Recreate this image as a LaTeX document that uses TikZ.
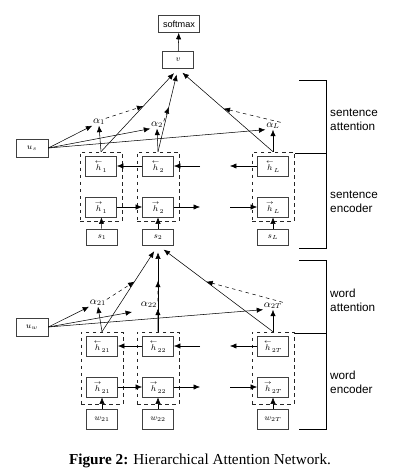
\documentclass[tikz,border=0pt]{standalone}
\usepackage{fontspec}
\setmainfont{Liberation Serif}
\newfontfamily\arialfont{Liberation Sans}
\usepackage{amsmath,amssymb}
\usetikzlibrary{arrows.meta,calc}

\newcommand{\bwd}[1]{\overset{\leftarrow}{h}_{#1}}
\newcommand{\fwd}[1]{\overset{\rightarrow}{h}_{#1}}

\begin{document}
\begin{tikzpicture}[x=0.03cm, y=-0.03cm,
        cell/.style={draw=black!75, line width=0.6pt, rectangle, minimum width=0.93cm, minimum height=0.6cm, inner sep=0pt, font=\scriptsize},
        inbox/.style={cell, minimum height=0.48cm},
        group/.style={draw=black!85, dashed, line width=0.5pt, rectangle, minimum width=1.26cm, minimum height=2.07cm},
        weight/.style={inner sep=0.5pt, font=\small},
        link/.style={-{Latex[length=5.5pt,width=4.5pt]}, line width=0.45pt},
        tag/.style={anchor=west, align=left, inner sep=0pt, font=\arialfont\fontsize{10}{12}\selectfont}]
        \useasboundingbox (0,0) rectangle (400,476);

        % Draw the output cells
        \node[cell, minimum width=1.23cm, minimum height=0.51cm, font=\arialfont\fontsize{7.8}{9}\selectfont] (softmax) at (179,24) {softmax};
        \node[cell, minimum height=0.51cm] (v) at (178,60) {$v$};
        \draw[link] (v) -- (softmax);

        % Draw the sentence encoder
        \node[cell, minimum width=0.96cm, minimum height=0.54cm] (us) at (32,148) {$u_s$};
        \node[group] (senc1) at (101,186.5) {};
        \node[group] (senc2) at (158,186.5) {};
        \node[group] (sencL) at (273,186.5) {};

        \node[cell] (sbh1) at (101,166) {$\bwd{1}$};
        \node[cell] (sbh2) at (158,166) {$\bwd{2}$};
        \node[cell] (sbhL) at (273,166) {$\bwd{L}$};
        \node[cell] (sfh1) at (101,207) {$\fwd{1}$};
        \node[cell] (sfh2) at (158,207) {$\fwd{2}$};
        \node[cell] (sfhL) at (273,207) {$\fwd{L}$};
        \node[inbox] (s1) at (102,237) {$s_1$};
        \node[inbox] (s2) at (158,237) {$s_2$};
        \node[inbox] (sL) at (273,237) {$s_L$};

        \coordinate (sbin) at (200,166);
        \coordinate (sbout) at (230,166);
        \coordinate (sfout) at (200,207);
        \coordinate (sfin) at (230,207);

        \draw[link] (s1) -- (sfh1);
        \draw[link] (s2) -- (sfh2);
        \draw[link] (sL) -- (sfhL);
        \draw[link] (sfh1) -- (sfh2);
        \draw[link] (sfh2) -- (sfout);
        \draw[link] (sfin) -- (sfhL);
        \draw[link] (sbh2) -- (sbh1);
        \draw[link] (sbin) -- (sbh2);
        \draw[link] (sbhL) -- (sbout);

        % Draw the sentence attention
        \node[weight] (a1) at (99,122) {$\alpha_1$};
        \node[weight] (a2) at (157,125) {$\alpha_2$};
        \node[weight] (aL) at (273,126) {$\alpha_L$};
        \draw[link] (senc1.north) -- (a1.south);
        \draw[link] (senc2.north) -- (a2.south);
        \draw[link] (sencL.north) -- (aL.south);
        \draw[link] (us.east) -- (a1.south west);
        \draw[link] (us.east) -- (a2.south west);
        \draw[link] (us.east) -- (aL.south west);
        \draw[link, shorten >=5pt] (senc1.north) -- (v.south);
        \draw[link, shorten >=5pt] (senc2.north) -- (v.south);
        \draw[link, shorten >=5pt] (sencL.north) -- (v.south);
        \draw[link, dashed] (a1.north east) -- ($(senc1.north)!0.55!(v.south)$);
        \draw[link, dashed] (a2.north east) -- ($(senc2.north)!0.54!(v.south)$);
        \draw[link, dashed] (aL.north east) -- ($(sencL.north)!0.52!(v.south)$);

        % Draw the word encoder
        \node[cell, minimum width=0.96cm, minimum height=0.54cm] (uw) at (32,327) {$u_w$};
        \node[group, minimum height=2.16cm] (wenc1) at (102,368) {};
        \node[group, minimum height=2.16cm] (wenc2) at (158,368) {};
        \node[group, minimum height=2.16cm] (wencT) at (273,368) {};

        \node[cell] (wbh1) at (102,346) {$\bwd{21}$};
        \node[cell] (wbh2) at (158,346) {$\bwd{22}$};
        \node[cell] (wbhT) at (273,346) {$\bwd{2T}$};
        \node[cell] (wfh1) at (102,387) {$\fwd{21}$};
        \node[cell] (wfh2) at (158,387) {$\fwd{22}$};
        \node[cell] (wfhT) at (273,387) {$\fwd{2T}$};
        \node[cell] (w1) at (102,419) {$w_{21}$};
        \node[cell] (w2) at (158,419) {$w_{22}$};
        \node[cell] (wT) at (273,419) {$w_{2T}$};

        \coordinate (wbin) at (200,346);
        \coordinate (wbout) at (230,346);
        \coordinate (wfout) at (200,387);
        \coordinate (wfin) at (230,387);

        \draw[link] (w1) -- (wfh1);
        \draw[link] (w2) -- (wfh2);
        \draw[link] (wT) -- (wfhT);
        \draw[link] (wfh1) -- (wfh2);
        \draw[link] (wfh2) -- (wfout);
        \draw[link] (wfin) -- (wfhT);
        \draw[link] (wbh2) -- (wbh1);
        \draw[link] (wbin) -- (wbh2);
        \draw[link] (wbhT) -- (wbout);

        % Draw the word attention
        \node[weight] (a21) at (98,303) {$\alpha_{21}$};
        \node[weight] (a22) at (149,305) {$\alpha_{22}$};
        \node[weight] (a2T) at (273,306) {$\alpha_{2T}$};
        \coordinate (uwend) at (132,312);
        \draw[link] (wenc1.north) -- (a21.south);
        \draw[link] (wenc2.north) -- (a22.south east);
        \draw[link] (wencT.north) -- (a2T.south);
        \draw[link] (uw.east) -- (a21.south west);
        \draw[link] (uw.east) -- (uwend);
        \draw[link] (uw.east) -- (a2T.south west);
        \draw[link, shorten >=6pt] (wenc1.north) -- (s2.south);
        \draw[link, shorten >=6pt] (wenc2.north) -- (s2.south);
        \draw[link, shorten >=6pt] (wencT.north) -- (s2.south);
        \draw[link, dashed] (a21.north east) -- ($(wenc1.north)!0.58!(s2.south)$);
        \draw[link, dashed] (a22.north east) -- ($(wenc2.north)!0.59!(s2.south)$);
        \draw[link, dashed] (a2T.north east) -- ($(wencT.north)!0.58!(s2.south)$);

        % Draw the brackets with labels
        \draw[line width=0.6pt] (299,80) -- (326,80) -- (326,248) -- (299,248);
        \draw[line width=0.6pt] (295,153) -- (326,153);
        \draw[line width=0.6pt] (299,260) -- (326,260) -- (326,429) -- (299,429);
        \draw[line width=0.6pt] (295,333) -- (326,333);
        \node[tag] (satt) at (330,120) {sentence\\attention};
        \node[tag] (senc) at (330,202) {sentence\\encoder};
        \node[tag] (watt) at (330,300) {word\\attention};
        \node[tag] (wenc) at (330,382) {word\\encoder};

        % Add the caption
        \node[font=\fontsize{13}{15}\selectfont] (caption) at (200,461) {\textbf{Figure 2:} Hierarchical Attention Network.};
    \end{tikzpicture}
\end{document}
